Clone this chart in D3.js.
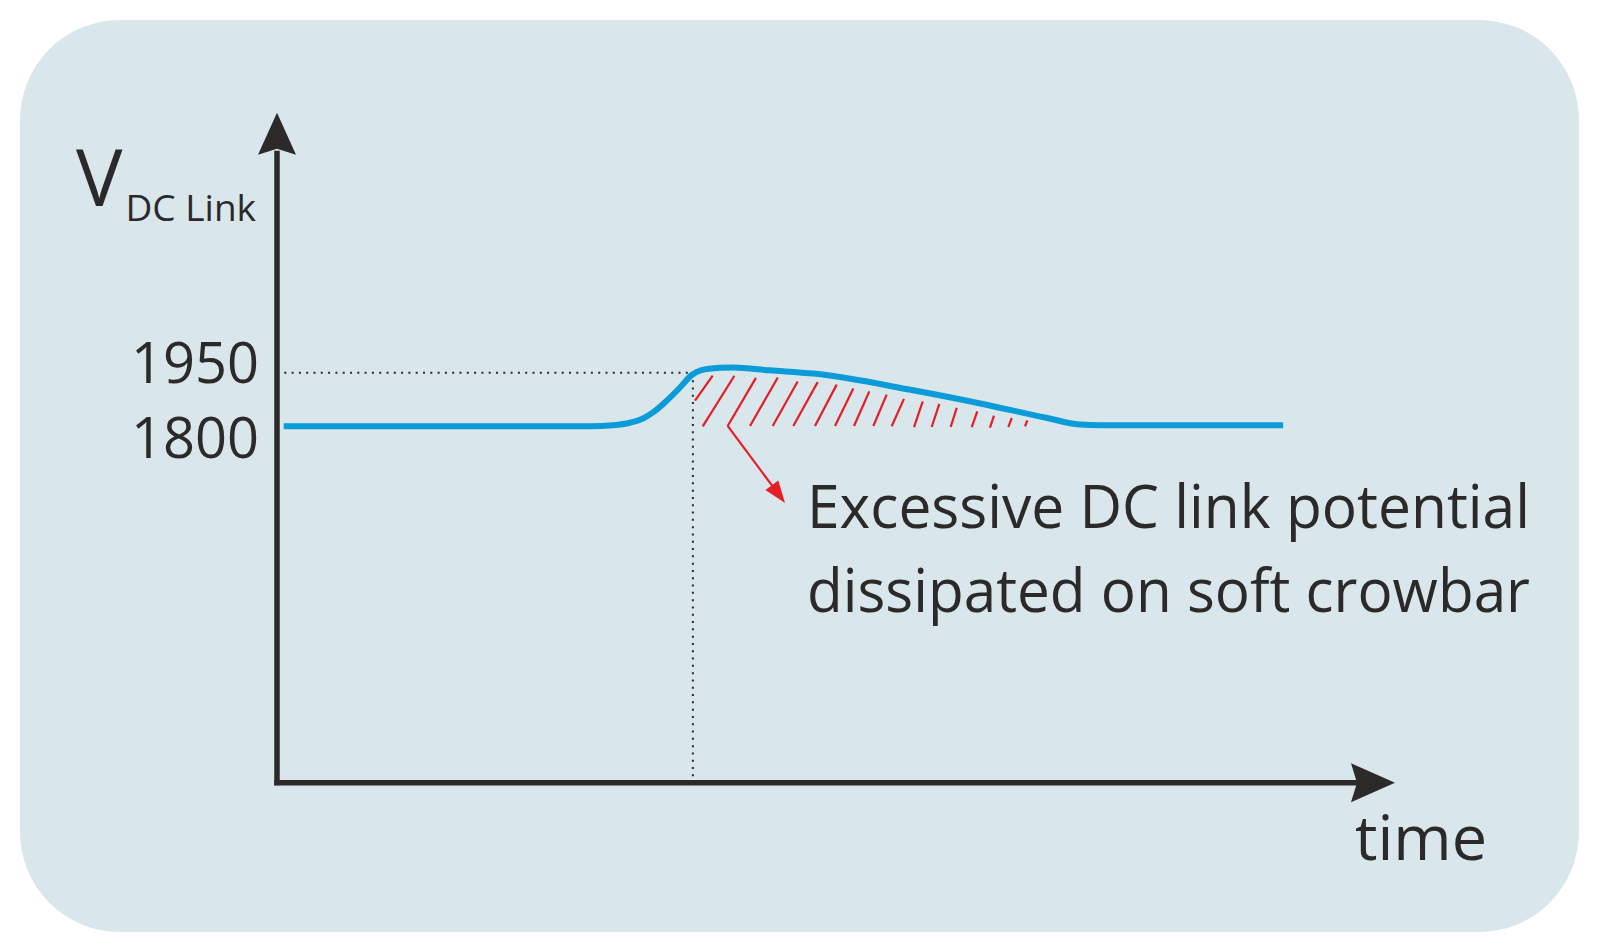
<!DOCTYPE html>
<html>
<head>
<meta charset="utf-8">
<script src="https://cdn.jsdelivr.net/npm/d3@7"></script>
<style>
  html, body { margin: 0; padding: 0; background: #ffffff; }
  svg { display: block; }
  text { font-family: "Open Sans", "Noto Sans", sans-serif; fill: #2b2a29; }
</style>
</head>
<body>
<svg id="chart" width="1599" height="952"></svg>
<script>
// ---- data ----
const timeT   = [0.6, 28.0, 30.05, 31.57, 32.74, 33.63, 34.86, 36.05, 37.1, 37.9, 39.6, 40.8, 44.1, 48.0, 56.9, 62.9, 68.8, 71.8, 73.6, 90.0];
const voltage = [1800, 1800, 1803, 1810, 1822, 1839, 1872, 1909, 1944, 1957, 1964, 1965, 1957, 1948, 1901, 1864, 1824, 1805, 1803, 1803];

const yTickValues = [1800, 1950];
const crowbarT = 37.2;      // moment the crowbar starts
const thresholdV = 1950;    // voltage threshold

// hatch segments: top (t,v) -> bottom (t,v)
const hatchTopT    = [38.97, 40.91, 42.84, 44.79, 46.57, 48.36, 50.06, 51.55, 52.98, 54.53, 56.08, 57.76, 59.24, 60.80, 62.64, 64.13, 65.72, 67.11];
const hatchTopV    = [1942, 1942, 1936, 1937, 1926, 1924, 1917, 1906, 1898, 1889, 1877, 1870, 1863, 1852, 1842, 1830, 1824, 1817];
const hatchBottomT = [37.39, 38.08, 40.31, 42.31, 44.34, 46.18, 48.12, 49.91, 51.61, 53.34, 54.98, 56.98, 58.56, 60.26, 62.14, 63.77, 65.41, 66.91];
const hatchBottomV = [1872, 1800, 1801, 1801, 1801, 1801, 1801, 1801, 1801, 1801, 1800, 1798, 1798, 1798, 1798, 1796, 1798, 1800];

const pointerFrom = [40.31, 1801];
const pointerTo   = [45.44, 1585];

const yLabelMain = "V";
const yLabelSub = "DC Link";
const xLabel = "time";
const noteLines = ["Excessive DC link potential", "dissipated on soft crowbar"];

// ---- layout ----
const svg = d3.select("#chart");
const W = 1599, H = 952;

const x = d3.scaleLinear().domain([0, 100]).range([277, 1395]);
const y = d3.scaleLinear().domain([800, 2680]).range([782.7, 112.7]);

const axisColor = "#2b2a29";
const blue = "#0a9bd8";
const red = "#e31e24";

// background panel
svg.append("rect")
  .attr("x", 20).attr("y", 20)
  .attr("width", W - 40).attr("height", H - 40)
  .attr("rx", 100).attr("ry", 100)
  .attr("fill", "#d9e6ec");

// dotted reference lines
const dot = svg.append("g")
  .attr("stroke", "#2b2a29")
  .attr("stroke-width", 2)
  .attr("stroke-dasharray", "2,5.3")
  .attr("fill", "none");
dot.append("line")
  .attr("x1", x(0)).attr("x2", x(crowbarT))
  .attr("y1", y(thresholdV)).attr("y2", y(thresholdV));
dot.append("line")
  .attr("x1", x(crowbarT)).attr("x2", x(crowbarT))
  .attr("y1", y(thresholdV)).attr("y2", y(800));

// hatching
const hatch = svg.append("g")
  .attr("stroke", red)
  .attr("stroke-width", 2.2)
  .attr("stroke-linecap", "butt");
hatchTopT.forEach((t, i) => {
  hatch.append("line")
    .attr("x1", x(t)).attr("y1", y(hatchTopV[i]))
    .attr("x2", x(hatchBottomT[i])).attr("y2", y(hatchBottomV[i]));
});

// pointer arrow
{
  const x1 = x(pointerFrom[0]), y1 = y(pointerFrom[1]);
  const x2 = x(pointerTo[0]), y2 = y(pointerTo[1]);
  const ang = Math.atan2(y2 - y1, x2 - x1);
  const L = 22, hw = 8;
  const bx = x2 - L * Math.cos(ang), by = y2 - L * Math.sin(ang);
  svg.append("line")
    .attr("x1", x1).attr("y1", y1).attr("x2", bx + 2 * Math.cos(ang)).attr("y2", by + 2 * Math.sin(ang))
    .attr("stroke", red).attr("stroke-width", 2.2);
  const px = -Math.sin(ang), py = Math.cos(ang);
  svg.append("path")
    .attr("d", `M${x2},${y2}L${bx + hw * px},${by + hw * py}L${bx - hw * px},${by - hw * py}Z`)
    .attr("fill", red);
}

// voltage curve
const data = timeT.map((t, i) => ({ t, v: voltage[i] }));
svg.append("path")
  .datum(data)
  .attr("fill", "none")
  .attr("stroke", blue)
  .attr("stroke-width", 6)
  .attr("d", d3.line().x(d => x(d.t)).y(d => y(d.v)).curve(d3.curveMonotoneX));

// axes lines
const ax = svg.append("g");
ax.append("line")
  .attr("x1", x(0)).attr("x2", x(0))
  .attr("y1", y(800) + 2.5).attr("y2", y(2680) + 38)
  .attr("stroke", axisColor).attr("stroke-width", 5.5);
ax.append("line")
  .attr("x1", x(0) - 2.75).attr("x2", x(100) - 38)
  .attr("y1", y(800)).attr("y2", y(800))
  .attr("stroke", axisColor).attr("stroke-width", 5.5);
// arrow heads (concave back)
{
  const tx = x(0), ty = y(2680);
  ax.append("path")
    .attr("d", `M${tx},${ty}L${tx + 19},${ty + 42}L${tx},${ty + 36}L${tx - 19},${ty + 42}Z`)
    .attr("fill", axisColor);
  const rx = x(100), ry = y(800);
  ax.append("path")
    .attr("d", `M${rx},${ry}L${rx - 44},${ry - 19.5}L${rx - 38},${ry}L${rx - 44},${ry + 19.5}Z`)
    .attr("fill", axisColor);
}

// y tick labels through a d3 axis (1950 sits above its line, 1800 below)
const yAxis = svg.append("g")
  .attr("transform", `translate(${x(0) - 18},0)`)
  .call(d3.axisLeft(y).tickValues(yTickValues).tickSize(0).tickPadding(0).tickFormat(d3.format("d")));
yAxis.select(".domain").remove();
yAxis.selectAll("text")
  .attr("font-family", "Open Sans, Noto Sans, sans-serif")
  .attr("font-size", 56)
  .attr("fill", "#2b2a29")
  .attr("x", 0)
  .attr("dy", d => d === 1950 ? 10 : 31);

// axis titles
const yl = svg.append("text").attr("x", 76).attr("y", 206);
yl.append("tspan").attr("font-size", 78).text(yLabelMain);
yl.append("tspan").attr("font-size", 37).attr("dx", 3).attr("dy", 15).text(yLabelSub);

svg.append("text")
  .attr("x", 1355).attr("y", 860)
  .attr("font-size", 63)
  .text(xLabel);

// annotation
noteLines.forEach((s, i) => {
  svg.append("text")
    .attr("x", 807).attr("y", 528 + i * 83.5)
    .attr("font-size", 60)
    .attr("textLength", 723)
    .attr("lengthAdjust", "spacingAndGlyphs")
    .text(s);
});
</script>
</body>
</html>
